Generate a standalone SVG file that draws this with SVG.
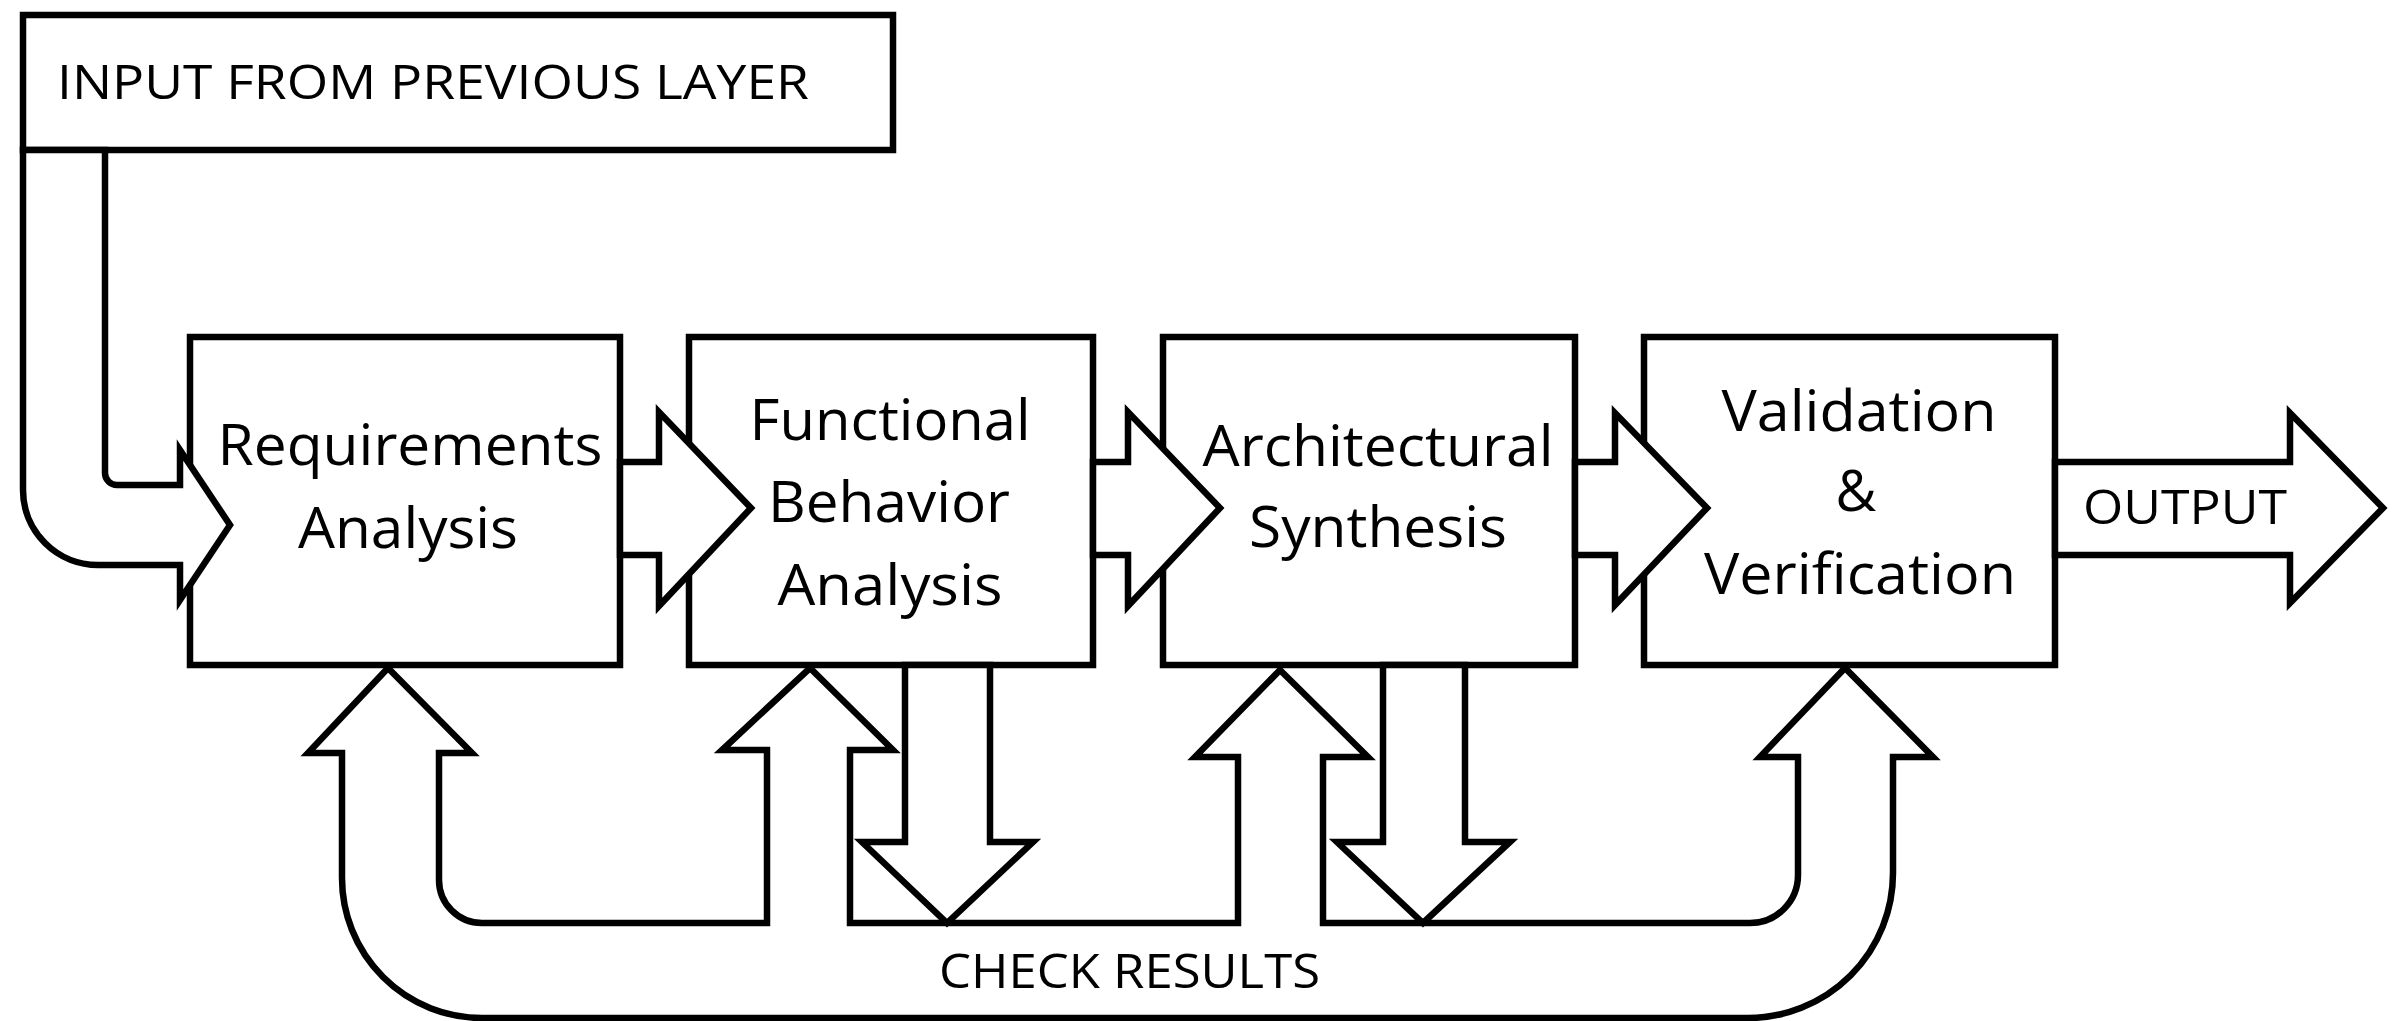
<svg xmlns="http://www.w3.org/2000/svg" width="2399" height="1021" viewBox="0 0 2399 1021">
  <style>
    .box { fill: #ffffff; stroke: #000000; stroke-width: 6.5; }
    .arrow { fill: #ffffff; stroke: #000000; stroke-width: 6.5; stroke-linejoin: miter; stroke-miterlimit: 10; }
    .lbl { font-family: "Open Sans", "Noto Sans", sans-serif; font-size: 56px; fill: #000000; text-anchor: middle; }
    .cap { font-family: "Open Sans", "Noto Sans", sans-serif; font-size: 48px; fill: #000000; }
  </style>
  <rect x="0" y="0" width="2399" height="1021" fill="#ffffff"/>

  <!-- process steps -->
  <g id="input">
    <rect class="box" x="23" y="15" width="870" height="135"/>
    <text class="cap" x="57" y="99" textLength="752" lengthAdjust="spacingAndGlyphs">INPUT FROM PREVIOUS LAYER</text>
  </g>
  <g id="requirements">
    <rect class="box" x="190" y="337" width="430" height="328"/>
    <text class="lbl" x="410" y="465" textLength="385" lengthAdjust="spacingAndGlyphs">Requirements</text>
    <text class="lbl" x="408" y="548" textLength="220" lengthAdjust="spacingAndGlyphs">Analysis</text>
  </g>
  <g id="functional">
    <rect class="box" x="689" y="337" width="404" height="328"/>
    <text class="lbl" x="890" y="440" textLength="281" lengthAdjust="spacingAndGlyphs">Functional</text>
    <text class="lbl" x="889" y="522" textLength="242" lengthAdjust="spacingAndGlyphs">Behavior</text>
    <text class="lbl" x="890" y="605" textLength="225" lengthAdjust="spacingAndGlyphs">Analysis</text>
  </g>
  <g id="architectural">
    <rect class="box" x="1163" y="337" width="412" height="328"/>
    <text class="lbl" x="1378" y="466" textLength="351" lengthAdjust="spacingAndGlyphs">Architectural</text>
    <text class="lbl" x="1378" y="547" textLength="258" lengthAdjust="spacingAndGlyphs">Synthesis</text>
  </g>
  <g id="validation">
    <rect class="box" x="1644" y="337" width="411" height="328"/>
    <text class="lbl" x="1859" y="431" textLength="275" lengthAdjust="spacingAndGlyphs">Validation</text>
    <text class="lbl" x="1856" y="511">&amp;</text>
    <text class="lbl" x="1860" y="594" textLength="312" lengthAdjust="spacingAndGlyphs">Verification</text>
  </g>

  <!-- block arrows -->
  <g id="connectors">
    <!-- input feed into requirements -->
    <path class="arrow" d="M 23 150 L 23 490 A 75 75 0 0 0 98 565 L 180 565 L 180 600 L 230 525 L 180 450 L 180 485 L 117 485 A 12 12 0 0 1 105 473 L 105 150 Z"/>
    <!-- forward flow -->
    <path class="arrow" d="M 620 462 L 659 462 L 659 412 L 751 508 L 659 606 L 659 555 L 620 555 Z"/>
    <path class="arrow" d="M 1093 462 L 1128 462 L 1128 412 L 1220 508 L 1128 606 L 1128 555 L 1093 555 Z"/>
    <path class="arrow" d="M 1575 462 L 1615 462 L 1615 413 L 1707 508 L 1615 605 L 1615 555 L 1575 555 Z"/>
    <!-- output -->
    <path class="arrow" d="M 2055 462 L 2290 462 L 2290 413 L 2383 508 L 2290 603 L 2290 555 L 2055 555 Z"/>
    <!-- check-results feedback loop -->
    <path class="arrow" d="M 388 668 L 472 753 L 439 753 L 439 880 A 43 43 0 0 0 482 923 L 767 923 L 767 750 L 722 750 L 810 668 L 893 750 L 850 750 L 850 923 L 1238 923 L 1238 757 L 1195 757 L 1280 670 L 1368 757 L 1323 757 L 1323 923 L 1750 923 A 48 48 0 0 0 1798 875 L 1798 757 L 1760 757 L 1845 668 L 1933 757 L 1893 757 L 1893 873 A 145 145 0 0 1 1748 1018 L 482 1018 A 140 140 0 0 1 342 878 L 342 753 L 308 753 Z"/>
    <!-- results sent down -->
    <path class="arrow" d="M 905 665 L 905 842 L 862 842 L 947 923 L 1033 842 L 990 842 L 990 665 Z"/>
    <path class="arrow" d="M 1383 665 L 1383 842 L 1337 842 L 1423 923 L 1510 842 L 1465 842 L 1465 665 Z"/>
  </g>

  <!-- connector labels -->
  <text class="cap" x="2083" y="524" textLength="204" lengthAdjust="spacingAndGlyphs">OUTPUT</text>
  <text class="cap" x="939" y="988" textLength="381" lengthAdjust="spacingAndGlyphs">CHECK RESULTS</text>
</svg>
